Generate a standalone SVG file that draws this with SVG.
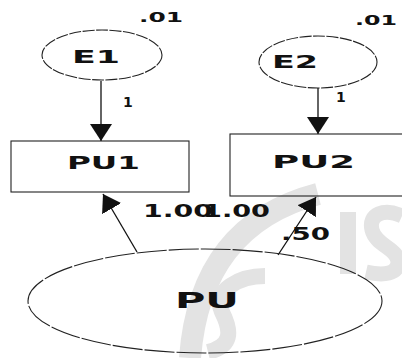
<svg xmlns="http://www.w3.org/2000/svg" width="402" height="358" viewBox="0 0 402 358">
<style>
.bg{fill:#ffffff}
.wm{fill:none;stroke:#e3e3e3;stroke-linecap:butt}
.shape{fill:none;stroke:#222;stroke-width:1.1}
.lbl{font-family:"DejaVu Sans",sans-serif;font-weight:bold;fill:#111}
.conn{stroke:#111;stroke-width:1.3;fill:none}
</style>
<defs>
<marker id="arr" viewBox="0 0 17 22" refX="17" refY="11" markerWidth="17" markerHeight="22" markerUnits="userSpaceOnUse" orient="auto">
<path d="M0,0 L17,11 L0,22 z" fill="#111"/>
</marker>
</defs>
<rect class="bg" x="0" y="0" width="402" height="358"/>
<g id="watermark">
<path class="wm" stroke-width="22" d="M318 194 Q200 225 190 358"/>
<path class="wm" stroke-width="16" d="M265 276 C240 276 212 290 222 312 C232 332 232 346 208 352"/>
<rect x="340" y="212" width="16" height="62" fill="#e3e3e3"/>
<path class="wm" stroke-width="15" d="M402 216 C384 208 368 214 372 230 C376 246 398 248 398 262 C398 274 384 276 366 272"/>
</g>
<g id="connectors">
<line class="conn" x1="101" y1="81" x2="101" y2="141" marker-end="url(#arr)"/>
<line class="conn" x1="318" y1="88" x2="318" y2="134" marker-end="url(#arr)"/>
<line class="conn" x1="137" y1="252" x2="103" y2="194" marker-end="url(#arr)"/>
<line class="conn" x1="278" y1="255" x2="316" y2="197" marker-end="url(#arr)"/>
<text class="lbl" x="123" y="107" font-size="14">1</text>
<text class="lbl" x="336" y="102" font-size="14">1</text>
<text class="lbl" x="143" y="217" font-size="18" textLength="70" lengthAdjust="spacingAndGlyphs">1.00</text>
<text class="lbl" x="203" y="217" font-size="18" textLength="67" lengthAdjust="spacingAndGlyphs">1.00</text>
<text class="lbl" x="281" y="240" font-size="18" textLength="49" lengthAdjust="spacingAndGlyphs">.50</text>
</g>
<g id="E1">
<ellipse class="shape" cx="102" cy="55" rx="60" ry="25" stroke-dasharray="12 1.5"/>
<text class="lbl" x="72" y="63" font-size="18" textLength="48" lengthAdjust="spacingAndGlyphs">E1</text>
<text class="lbl" x="139" y="22" font-size="14" textLength="44" lengthAdjust="spacingAndGlyphs">.01</text>
</g>
<g id="E2">
<ellipse class="shape" cx="318" cy="62" rx="59" ry="26" stroke-dasharray="12 1.5"/>
<text class="lbl" x="272" y="68" font-size="18" textLength="46" lengthAdjust="spacingAndGlyphs">E2</text>
<text class="lbl" x="355" y="25" font-size="14" textLength="42" lengthAdjust="spacingAndGlyphs">.01</text>
</g>
<g id="PU1">
<rect class="shape" x="11" y="141" width="178" height="51"/>
<text class="lbl" x="67" y="169" font-size="18" textLength="73" lengthAdjust="spacingAndGlyphs">PU1</text>
</g>
<g id="PU2">
<rect class="shape" x="230" y="134" width="185" height="62"/>
<text class="lbl" x="272" y="168" font-size="18" textLength="83" lengthAdjust="spacingAndGlyphs">PU2</text>
</g>
<g id="PU">
<ellipse class="shape" cx="205" cy="301" rx="177" ry="52" stroke-dasharray="30 2"/>
<text class="lbl" x="175" y="308" font-size="21" textLength="64" lengthAdjust="spacingAndGlyphs">PU</text>
</g>
</svg>
